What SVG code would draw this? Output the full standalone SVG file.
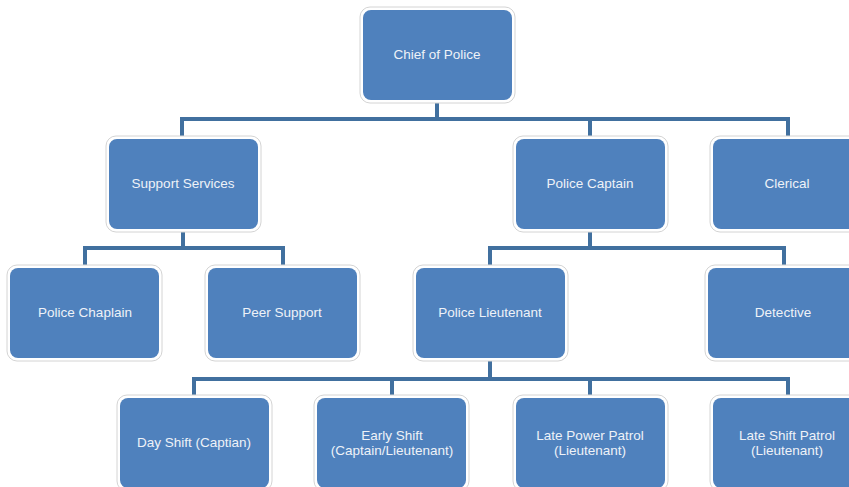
<svg xmlns="http://www.w3.org/2000/svg" width="849" height="487" viewBox="0 0 849 487">
<style>
.halo{fill:#FFFFFF;stroke:#D4D4D4;stroke-width:1}
.box{fill:#4F81BD}
.t{font-family:"Liberation Sans",Arial,sans-serif;font-size:13.5px;fill:#EEF2F8;text-anchor:middle}
.c{fill:none;stroke:#41709F;stroke-width:4}
</style>
<defs>
<g id="shape">
<rect class="halo" x="-3" y="-3" width="155" height="96" rx="10"/>
<rect class="box" x="0" y="0" width="149" height="90" rx="8"/>
</g>
</defs>
<rect width="849" height="487" fill="#FFFFFF"/>
<g id="connectors">
<path class="c" d="M437,99 V119 M182,139 V119 H788 V139 M590,119 V139"/>
<path class="c" d="M183,229 V248 M85,268 V248 H283 V268"/>
<path class="c" d="M590,229 V248 M490,268 V248 H784 V268"/>
<path class="c" d="M490,358 V379 M194,398 V379 H788 V398 M392,379 V398 M590,379 V398"/>
</g>
<g id="chief"><use href="#shape" x="363" y="10"/><text class="t" x="437" y="59">Chief of Police</text></g>
<g id="support"><use href="#shape" x="109" y="139"/><text class="t" x="183" y="188">Support Services</text></g>
<g id="captain"><use href="#shape" x="516" y="139"/><text class="t" x="590" y="188">Police Captain</text></g>
<g id="clerical"><use href="#shape" x="713" y="139"/><text class="t" x="787" y="188">Clerical</text></g>
<g id="chaplain"><use href="#shape" x="10" y="268"/><text class="t" x="85" y="317">Police Chaplain</text></g>
<g id="peer"><use href="#shape" x="208" y="268"/><text class="t" x="282" y="317">Peer Support</text></g>
<g id="lieutenant"><use href="#shape" x="416" y="268"/><text class="t" x="490" y="317">Police Lieutenant</text></g>
<g id="detective"><use href="#shape" x="708" y="268"/><text class="t" x="783" y="317">Detective</text></g>
<g id="day"><use href="#shape" x="120" y="398"/><text class="t" x="194" y="447">Day Shift (Captian)</text></g>
<g id="early"><use href="#shape" x="317" y="398"/><text class="t" x="392" y="440">Early Shift</text><text class="t" x="392" y="455">(Captain/Lieutenant)</text></g>
<g id="latepower"><use href="#shape" x="516" y="398"/><text class="t" x="590" y="440">Late Power Patrol</text><text class="t" x="590" y="455">(Lieutenant)</text></g>
<g id="lateshift"><use href="#shape" x="713" y="398"/><text class="t" x="787" y="440">Late Shift Patrol</text><text class="t" x="787" y="455">(Lieutenant)</text></g>
</svg>
